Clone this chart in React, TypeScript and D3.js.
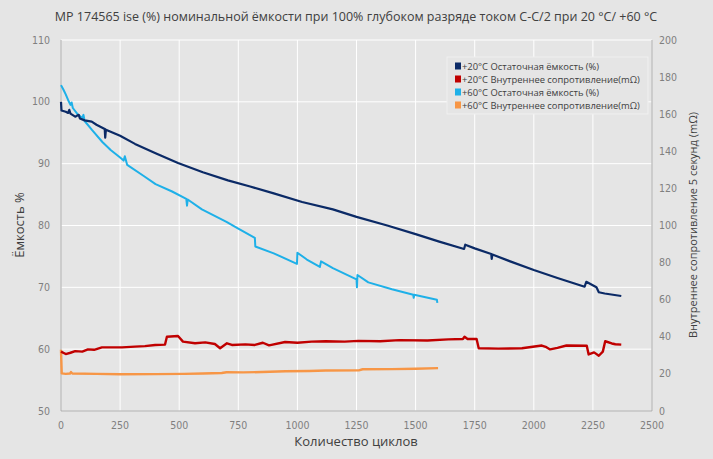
import React from "react";
import * as d3 from "d3";

const titleText = "MP 174565 ise  (%) номинальной ёмкости при 100% глубоком разряде током С-С/2 при 20 °С/ +60 °С";
const xTicks = [0, 250, 500, 750, 1000, 1250, 1500, 1750, 2000, 2250, 2500];
const leftTicks = [50, 60, 70, 80, 90, 100, 110];
const rightTicks = [0, 20, 40, 60, 80, 100, 120, 140, 160, 180, 200];

// +20°C remaining capacity (%)
const cap20: [number, number][] = [
  [0, 100.0], [2, 98.6], [20, 98.4], [30, 98.2], [35, 98.7], [40, 98.1], [60, 97.6], [75, 97.9],
  [80, 97.3], [100, 97.0], [130, 96.8], [150, 96.3], [185, 95.6], [187, 94.2], [190, 95.5],
  [250, 94.5], [313, 93.2], [400, 91.7], [495, 90.1], [600, 88.6], [706, 87.3], [800, 86.3],
  [900, 85.2], [1020, 83.8], [1150, 82.6], [1250, 81.4], [1380, 80.0], [1500, 78.6], [1600, 77.4],
  [1705, 76.2], [1710, 76.9], [1750, 76.3], [1820, 75.4], [1822, 74.6], [1825, 75.3], [1900, 74.2],
  [2000, 72.8], [2100, 71.5], [2215, 70.1], [2222, 70.9], [2265, 70.0], [2275, 69.2], [2300, 69.0],
  [2370, 68.6],
];

// +60°C remaining capacity (%)
const cap60: [number, number][] = [
  [0, 102.7], [10, 102.0], [20, 101.2], [30, 100.3], [40, 99.5], [45, 99.9], [50, 99.0], [70, 98.0],
  [90, 97.4], [95, 97.9], [100, 96.9], [130, 95.5], [175, 93.5], [210, 92.2], [250, 91.0], [265, 90.5],
  [270, 91.2], [280, 89.8], [350, 88.0], [400, 86.7], [470, 85.5], [530, 84.3], [533, 83.2],
  [536, 84.2], [596, 82.6], [700, 80.6], [750, 79.5], [820, 78.0], [822, 76.6], [900, 75.5],
  [998, 73.8], [1000, 75.6], [1040, 74.5], [1095, 73.3], [1100, 74.2], [1150, 73.1], [1250, 71.3],
  [1252, 70.0], [1254, 72.0], [1300, 70.8], [1400, 69.7], [1490, 68.8], [1492, 68.3], [1494, 68.8],
  [1590, 68.0], [1592, 67.5],
];

// +20°C internal resistance (mΩ)
const res20: [number, number][] = [
  [0, 32.0], [20, 30.7], [40, 31.4], [60, 32.3], [90, 32.0], [114, 33.2], [140, 33.0], [173, 34.3],
  [258, 34.3], [313, 34.7], [355, 35.0], [398, 35.6], [440, 35.8], [448, 40.0], [495, 40.4],
  [516, 37.4], [567, 36.5], [610, 37.0], [651, 36.1], [673, 33.8], [702, 36.5], [723, 35.6],
  [780, 35.9], [820, 35.6], [854, 36.8], [880, 35.4], [948, 37.2], [1000, 36.8], [1060, 37.4],
  [1120, 37.6], [1200, 37.4], [1258, 37.8], [1350, 37.6], [1431, 38.2], [1550, 38.0], [1638, 38.6],
  [1700, 38.8], [1707, 40.0], [1720, 38.8], [1758, 38.8], [1767, 33.8], [1850, 33.6], [1950, 33.8],
  [2034, 35.3], [2050, 34.6], [2069, 33.2], [2100, 34.0], [2138, 35.3], [2224, 35.2], [2232, 30.5],
  [2255, 31.6], [2275, 29.8], [2292, 32.0], [2302, 37.6], [2330, 36.4], [2345, 36.0], [2370, 35.8],
];

// +60°C internal resistance (mΩ)
const res60: [number, number][] = [
  [0, 33.0], [3, 20.3], [20, 20.0], [38, 20.2], [42, 21.0], [48, 20.2], [150, 20.0], [250, 19.8],
  [400, 19.9], [520, 20.0], [600, 20.2], [680, 20.5], [700, 20.9], [770, 20.8], [850, 21.0],
  [950, 21.4], [1050, 21.6], [1120, 21.8], [1260, 21.9], [1276, 22.5], [1400, 22.6], [1500, 22.8],
  [1595, 23.1],
];

const seriesLabels = [
  "+20°C  Остаточная ёмкость (%)",
  "+20°C  Внутреннее сопротивление(mΩ)",
  "+60°C  Остаточная ёмкость (%)",
  "+60°C  Внутреннее сопротивление(mΩ)",
];
const seriesColors = ["#0b2a66", "#c00000", "#1eb0e8", "#f79646"];

const W = 713;
const H = 459;
const BG = "#e5e5e5";
const TICK_FONT = "'Liberation Sans Narrow', 'DejaVu Sans Condensed', Roboto, sans-serif";
const MAIN_FONT = "'Open Sans', 'Noto Sans', sans-serif";

export default function App() {
  const x = d3.scaleLinear().domain([0, 2500]).range([61, 652]);
  const yL = d3.scaleLinear().domain([50, 110]).range([411, 40]);
  const yR = d3.scaleLinear().domain([0, 200]).range([411, 40]);

  const lineL = d3.line<[number, number]>().x((d) => x(d[0])).y((d) => yL(d[1]));
  const lineR = d3.line<[number, number]>().x((d) => x(d[0])).y((d) => yR(d[1]));

  const paths = [
    { d: lineR(res60), c: seriesColors[3], w: 2.4 },
    { d: lineR(res20), c: seriesColors[1], w: 2.4 },
    { d: lineL(cap60), c: seriesColors[2], w: 2 },
    { d: lineL(cap20), c: seriesColors[0], w: 2.2 },
  ];

  const [x0, x1] = x.range();
  const [yb, yt] = yL.range();

  return (
    <svg
      width={W}
      height={H}
      style={{ position: "absolute", left: 0, top: 0, background: BG }}
    >
      <rect x={0} y={0} width={W} height={H} fill={BG} />
      {leftTicks.map((t) => (
        <line key={"h" + t} x1={x0} x2={x1} y1={yL(t)} y2={yL(t)} stroke="#ffffff" strokeWidth={1} />
      ))}
      {xTicks.map((t) => (
        <line key={"v" + t} x1={x(t)} x2={x(t)} y1={yt} y2={yb} stroke="#ffffff" strokeWidth={1} />
      ))}
      <line x1={x0} x2={x0} y1={yt} y2={yb} stroke="#a6a6a6" strokeWidth={1} />
      <line x1={x1} x2={x1} y1={yt} y2={yb} stroke="#a6a6a6" strokeWidth={1} />
      <line x1={x0} x2={x1} y1={yb} y2={yb} stroke="#a6a6a6" strokeWidth={1} />

      {paths.map((p, i) => (
        <path key={i} d={p.d || ""} fill="none" stroke={p.c} strokeWidth={p.w} strokeLinejoin="round" />
      ))}

      {leftTicks.map((t) => (
        <text key={"lt" + t} x={50} y={yL(t) + 3.5} textAnchor="end" fontSize={10.5} fill="#7f7f7f" fontFamily={TICK_FONT}>
          {t}
        </text>
      ))}
      {rightTicks.map((t) => (
        <text key={"rt" + t} x={659} y={yR(t) + 3.5} textAnchor="start" fontSize={10.5} fill="#7f7f7f" fontFamily={TICK_FONT}>
          {t}
        </text>
      ))}
      {xTicks.map((t) => (
        <text key={"xt" + t} x={x(t)} y={429} textAnchor="middle" fontSize={10.5} fill="#7f7f7f" fontFamily={TICK_FONT}>
          {t}
        </text>
      ))}

      <text x={356} y={21} textAnchor="middle" fontSize={12.5} fill="#404040" fontFamily={MAIN_FONT}>
        {titleText}
      </text>
      <text x={356} y={446} textAnchor="middle" fontSize={13} fill="#404040" fontFamily={MAIN_FONT}>
        Количество циклов
      </text>
      <text transform="translate(24,225) rotate(-90)" textAnchor="middle" fontSize={13} fill="#404040" fontFamily={MAIN_FONT}>
        Ёмкость %
      </text>
      <text transform="translate(697,225) rotate(-90)" textAnchor="middle" fontSize={11} fill="#404040" fontFamily={MAIN_FONT}>
        Внутреннее сопротивление 5 секунд (mΩ)
      </text>

      <rect x={447} y={57} width={201} height={57} fill={BG} stroke="#f0f0f0" strokeWidth={1} />
      {seriesLabels.map((s, i) => (
        <g key={s} transform={`translate(455,${66 + i * 13})`}>
          <rect x={0} y={-3.5} width={6} height={7} fill={seriesColors[i]} />
          <text x={7} y={3.5} fontSize={9.4} fill="#404040" fontFamily={MAIN_FONT}>
            {s}
          </text>
        </g>
      ))}
    </svg>
  );
}
